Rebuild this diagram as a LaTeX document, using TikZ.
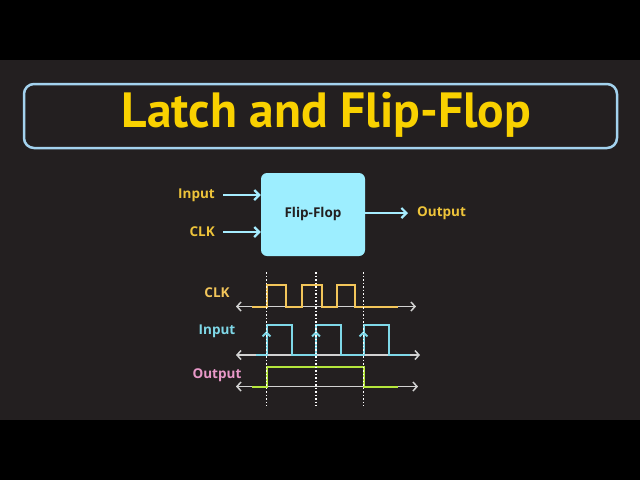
\documentclass[tikz,border=0pt]{standalone}
\usepackage{fontspec}
\setmainfont{Open Sans}
\newfontfamily\titlefont{PT Sans}
\usetikzlibrary{arrows.meta}
\definecolor{bgdark}{HTML}{231F20}
\definecolor{titleyel}{HTML}{F9D100}
\definecolor{frameblue}{HTML}{A3D2EE}
\definecolor{ffcyan}{HTML}{9DEEFF}
\definecolor{arrcyan}{HTML}{A6ECFF}
\definecolor{labyel}{HTML}{EEC43A}
\definecolor{clkyel}{HTML}{F2C55A}
\definecolor{incyan}{HTML}{7FD8E8}
\definecolor{outgreen}{HTML}{B5E63C}
\definecolor{outpink}{HTML}{E898C8}
\definecolor{axisgray}{HTML}{D2D2D2}
\tikzset{
  lab/.style={font=\bfseries\fontsize{13.5}{15}\selectfont, inner sep=0pt},
  flowarrow/.style={draw=arrcyan, line width=2.4pt, -{Straight Barb[length=5pt,width=10pt,line width=2.2pt]}},
  axisline/.style={draw=axisgray, line width=1.5pt, {Straight Barb[length=4pt,width=9pt]}-{Straight Barb[length=4pt,width=9pt]}},
  sig/.style={line width=2pt, line join=miter},
  dotline/.style={draw=white, line width=1.5pt, dash pattern=on 1.5pt off 2pt},
}
\begin{document}
\begin{tikzpicture}[x=1pt,y=-1pt]
\useasboundingbox (0,0) rectangle (640,480);
\fill[black] (0,0) rectangle (640,480);
\fill[bgdark] (0,60) rectangle (640,420);
% title
\draw[frameblue, line width=2.5pt, rounded corners=10pt] (24,84) rectangle (617,148);
\node[inner sep=0pt, text=titleyel, font=\titlefont\bfseries\fontsize{49.5}{52}\selectfont] (title) at (326.5,115) {Latch and Flip-Flop};
% flip-flop block
\node[draw=none, fill=ffcyan, rounded corners=6pt, minimum width=104pt, minimum height=83pt, inner sep=0pt] (ff) at (313,214.5) {};
\node[lab, text=bgdark] (fftext) at (313,214) {Flip-Flop};
\coordinate (inS) at (223,195);
\coordinate (clkS) at (223,232);
\coordinate (outE) at (408,213);
\node[lab, text=labyel, anchor=east] (inlab) at (215,195) {Input};
\node[lab, text=labyel, anchor=east] (clklab) at (215,232) {CLK};
\node[lab, text=labyel, anchor=west] (outlab) at (417,213) {Output};
\draw[flowarrow] (inS) -- (inS -| ff.west);
\draw[flowarrow] (clkS) -- (clkS -| ff.west);
\draw[flowarrow] (outE -| ff.east) -- (outE);
% timing labels
\node[lab, text=clkyel] (tclk) at (217,293) {CLK};
\node[lab, text=incyan] (tin) at (217,331) {Input};
\node[lab, text=outpink] (tout) at (217,375) {Output};
% axes
\coordinate (a1L) at (236,306.5); \coordinate (a1R) at (416,306.5);
\coordinate (a2L) at (236,355); \coordinate (a2R) at (420,355);
\coordinate (a3L) at (236,386.5); \coordinate (a3R) at (418,386.5);
\draw[axisline] (a1L) -- (a1R);
\draw[axisline] (a2L) -- (a2R);
\draw[axisline] (a3L) -- (a3R);
% signals
\draw[sig, clkyel] (252,306.5) -- (266.5,306.5) -- (266.5,284.5) -- (285.5,284.5) -- (285.5,306.5) -- (302,306.5) -- (302,284.5) -- (321.5,284.5) -- (321.5,306.5) -- (337,306.5) -- (337,284.5) -- (354.5,284.5) -- (354.5,306.5) -- (398,306.5);
\draw[sig, incyan] (256,355) -- (266.5,355) -- (266.5,324.5) -- (292,324.5) -- (292,355) -- (316,355) -- (316,324.5) -- (341,324.5) -- (341,355) -- (363.5,355) -- (363.5,324.5) -- (388.5,324.5) -- (388.5,355) -- (410,355);
\foreach \x/\n in {266.5/e1,316/e2,363.5/e3}{
  \coordinate (\n b) at (\x,355); \coordinate (\n t) at (\x,331);
  \draw[sig, incyan, -{Straight Barb[length=4pt,width=8pt]}] (\n b) -- (\n t);
}
\draw[sig, outgreen] (252,386.5) -- (266.5,386.5) -- (266.5,366.5) -- (363.5,366.5) -- (363.5,386.5) -- (398,386.5);
% dotted guides
\foreach \x/\n in {266.5/d1,316/d2,363.5/d3}{
  \coordinate (\n t) at (\x,272); \coordinate (\n b) at (\x,406);
  \draw[dotline] (\n t) -- (\n b);
}
\end{tikzpicture}
\end{document}
